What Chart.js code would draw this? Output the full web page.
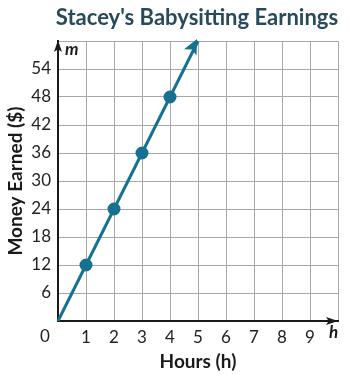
<!DOCTYPE html>
<html lang="en">
<head>
<meta charset="UTF-8">
<title>Stacey's Babysitting Earnings</title>
<script src="https://cdn.jsdelivr.net/npm/chart.js"></script>
<style>
  body { margin: 0; background: #fff; }
</style>
</head>
<body>
<canvas id="chart" width="349" height="375"></canvas>
<script>
// data
const hours = [0, 1, 2, 3, 4, 5];
const earned = [0, 12, 24, 36, 48, 60];
const xTickLabels = ['', '1', '2', '3', '4', '5', '6', '7', '8', '9', ''];
const yTickLabels = ['', '6', '12', '18', '24', '30', '36', '42', '48', '54', ''];

const teal = '#16708f';
const ink = '#1a1a1a';

function arrowHead(ctx, tipX, tipY, angle, len, half, color) {
  ctx.save();
  ctx.translate(tipX, tipY);
  ctx.rotate(angle);
  ctx.beginPath();
  ctx.moveTo(0, 0);
  ctx.lineTo(-len, -half);
  ctx.lineTo(-len * 0.78, 0);
  ctx.lineTo(-len, half);
  ctx.closePath();
  ctx.fillStyle = color;
  ctx.fill();
  ctx.restore();
}

const decorations = {
  id: 'decorations',
  afterDraw(chart) {
    const { ctx, chartArea: a, scales } = chart;
    ctx.save();
    // title
    ctx.fillStyle = '#284b5c';
    ctx.font = 'bold 22px Lato';
    ctx.textAlign = 'center';
    ctx.textBaseline = 'alphabetic';
    ctx.fillText("Stacey's Babysitting Earnings", 197, 25, 298);

    // axis arrows
    arrowHead(ctx, a.left, a.top - 1, -Math.PI / 2, 12, 4, ink);
    arrowHead(ctx, a.right, a.bottom, 0, 12, 4, ink);

    // line arrow at last point
    const n = hours.length - 1;
    const x1 = scales.x.getPixelForValue(hours[n - 1]);
    const y1 = scales.y.getPixelForValue(earned[n - 1]);
    const x2 = scales.x.getPixelForValue(hours[n]);
    const y2 = scales.y.getPixelForValue(earned[n]);
    const ang = Math.atan2(y2 - y1, x2 - x1);
    arrowHead(ctx, x2 - 1, y2 - 2, ang, 15, 7, teal);

    // axis variable letters and corner zero
    ctx.fillStyle = ink;
    ctx.font = 'italic bold 17px Lato';
    ctx.textAlign = 'left';
    ctx.fillText('m', a.left + 7, a.top + 14);
    ctx.fillText('h', a.right - 9, a.bottom + 17);
    ctx.font = '17px Lato';
    ctx.textAlign = 'center';
    ctx.textBaseline = 'middle';
    ctx.fillStyle = '#222';
    ctx.fillText('0', a.left - 13, a.bottom + 16);
    ctx.restore();
  }
};

new Chart(document.getElementById('chart'), {
  type: 'line',
  data: {
    datasets: [{
      data: hours.map((h, i) => ({ x: h, y: earned[i] })),
      borderColor: teal,
      backgroundColor: teal,
      borderWidth: 3,
      pointRadius: hours.map((h, i) => (i === 0 || i === hours.length - 1) ? 0 : 5),
      pointHoverRadius: 5,
      clip: false
    }]
  },
  options: {
    responsive: false,
    animation: false,
    events: [],
    layout: { padding: { top: 41, right: 11, left: 0, bottom: 0 } },
    plugins: { legend: { display: false }, title: { display: false }, tooltip: { enabled: false } },
    scales: {
      x: {
        type: 'linear',
        min: 0, max: 10,
        afterFit(s) { s.height = 54; },
        ticks: {
          stepSize: 1,
          padding: 6,
          maxRotation: 0,
          autoSkip: false,
          color: '#222',
          font: { family: 'Lato', size: 17 },
          callback: (v, i) => xTickLabels[i]
        },
        grid: { color: '#a8a8a8', lineWidth: 1, drawTicks: false },
        border: { color: ink, width: 2 },
        title: {
          display: true,
          text: 'Hours (h)',
          color: ink,
          font: { family: 'Lato', size: 19, weight: 'bold' },
          padding: { top: 0, bottom: 2 }
        }
      },
      y: {
        min: 0, max: 60,
        afterFit(s) { s.width = 58; },
        ticks: {
          stepSize: 6,
          padding: 7,
          autoSkip: false,
          color: '#222',
          font: { family: 'Lato', size: 17 },
          callback: (v, i) => yTickLabels[i]
        },
        grid: { color: '#a8a8a8', lineWidth: 1, drawTicks: false },
        border: { color: ink, width: 2 },
        title: {
          display: true,
          text: 'Money Earned ($)',
          color: ink,
          font: { family: 'Lato', size: 19, weight: 'bold' },
          padding: { top: 4, bottom: 0 }
        }
      }
    }
  },
  plugins: [decorations]
});
</script>
</body>
</html>
